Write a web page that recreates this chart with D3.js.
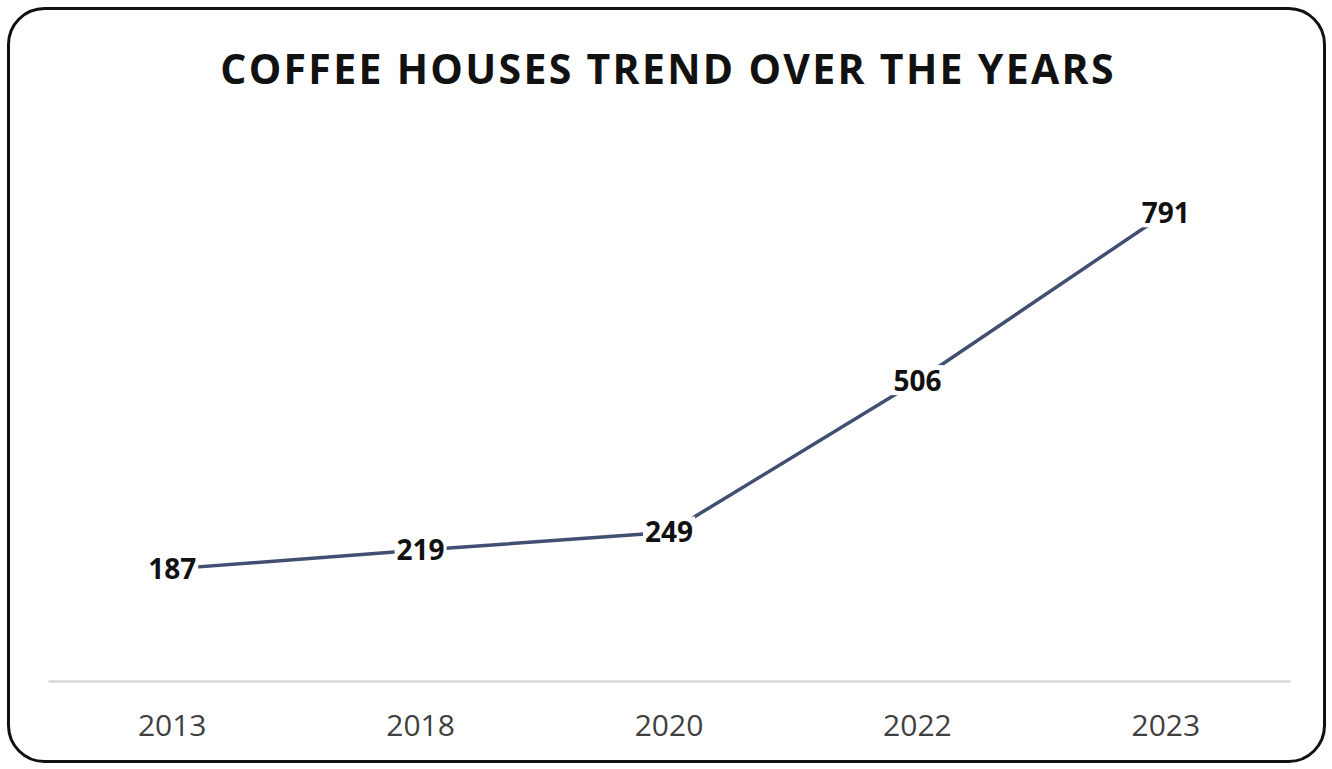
<!DOCTYPE html>
<html><head><meta charset="utf-8">
<script src="https://cdn.jsdelivr.net/npm/d3@7"></script>
<style>html,body{margin:0;padding:0;background:#fff;}svg{display:block;}</style>
</head><body>
<svg id="chart" width="1332" height="769"></svg>
<script>
const title = "COFFEE HOUSES TREND OVER THE YEARS";
const years = ["2013", "2018", "2020", "2022", "2023"];
const counts = [187, 219, 249, 506, 791];
const yDomain = [0, 900];

const svg = d3.select("#chart");
svg.append("rect").attr("x", 8.5).attr("y", 8.5).attr("width", 1316).attr("height", 753)
  .attr("rx", 36).attr("fill", "#fff").attr("stroke", "#111").attr("stroke-width", 3);

svg.append("text").attr("x", 668).attr("y", 84).attr("text-anchor", "middle")
  .attr("font-family", "'Open Sans', sans-serif").attr("font-weight", 700)
  .attr("font-size", 41).attr("letter-spacing", 2.3).attr("fill", "#111").text(title);

const x = d3.scaleBand().domain(years).range([48, 1290]);
const y = d3.scaleLinear().domain(yDomain).range([679, 149]);

const xAxis = svg.append("g").attr("transform", "translate(0,681)")
  .call(d3.axisBottom(x).tickSize(0).tickPadding(34));
xAxis.select(".domain").attr("stroke", "#d9d9d9").attr("stroke-width", 2.5);
xAxis.selectAll("text").attr("font-family", "'Open Sans', sans-serif")
  .attr("font-size", 30).attr("fill", "#404040");

const data = years.map((yr, i) => ({yr, v: counts[i]}));
const line = d3.line().x(d => x(d.yr) + x.bandwidth() / 2).y(d => y(d.v));
svg.append("path").datum(data).attr("d", line).attr("fill", "none")
  .attr("stroke", "#434f72").attr("stroke-width", 3.5);

const lg = svg.append("g");
const labels = lg.selectAll("g").data(data).join("g");
const txt = labels.append("text")
  .attr("x", d => x(d.yr) + x.bandwidth() / 2)
  .attr("y", d => y(d.v)).attr("dy", "0.36em").attr("text-anchor", "middle")
  .attr("font-family", "'Open Sans', sans-serif").attr("font-weight", 700)
  .attr("font-size", 28).attr("fill", "#111")
  .text(d => d.v);
txt.each(function() {
  const b = this.getBBox();
  d3.select(this.parentNode).insert("rect", "text")
    .attr("x", b.x - 2).attr("y", b.y + 4).attr("width", b.width + 4).attr("height", b.height - 8)
    .attr("fill", "#fff");
});
</script>
</body></html>
